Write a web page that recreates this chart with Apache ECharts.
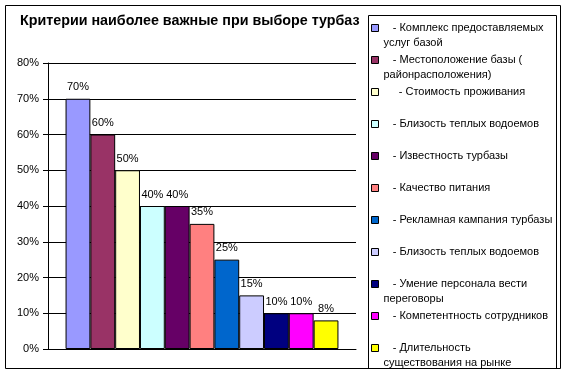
<!DOCTYPE html>
<html>
<head>
<meta charset="utf-8">
<script src="https://cdn.jsdelivr.net/npm/echarts@6/dist/echarts.min.js"></script>
<style>
html,body{margin:0;padding:0;background:#fff;}
#c{width:567px;height:374px;}
</style>
</head>
<body>
<div id="c"></div>
<script>
const titleText = 'Критерии наиболее важные при выборе турбаз';
const criteria = [
  'Комплекс предоставляемых\nуслуг базой',
  'Местоположение базы (\nрайонрасположения)',
  'Стоимость проживания',
  'Близость теплых водоемов',
  'Известность турбазы',
  'Качество питания',
  'Рекламная кампания турбазы',
  'Близость теплых водоемов ',
  'Умение персонала вести\nпереговоры',
  'Компетентность сотрудников',
  'Длительность\nсуществования на рынке'
];
const values = [70, 60, 50, 40, 40, 35, 25, 15, 10, 10, 8];
const colors = ['#9999FF', '#993366', '#FFFFCC', '#CCFFFF', '#660066', '#FF8080',
                '#0066CC', '#CCCCFF', '#000080', '#FF00FF', '#FFFF00'];
const yTicks = [0, 10, 20, 30, 40, 50, 60, 70, 80];

const font = 'Arial, "Liberation Sans", sans-serif';
const chart = echarts.init(document.getElementById('c'), null, {renderer: 'canvas'});

const series = criteria.map((name, i) => ({
  name: name,
  type: 'bar',
  data: [values[i]],
  barGap: '0%',
  barCategoryGap: '11.4%',
  itemStyle: {color: colors[i], borderColor: '#000', borderWidth: 1},
  label: {
    show: true, position: 'top', distance: 6,
    formatter: '{c}%', color: '#000', fontSize: 11, fontFamily: font
  },
  emphasis: {disabled: true},
  animation: false
}));

chart.setOption({
  animation: false,
  title: {
    text: titleText, left: 20, top: 14, padding: 0,
    textStyle: {fontSize: 14.3, fontWeight: 'bold', color: '#000', fontFamily: font}
  },
  graphic: [
    {type: 'rect', shape: {x: 5.5, y: 5.5, width: 555, height: 363}, style: {fill: 'none', stroke: '#000', lineWidth: 1}, z: -1},
    {type: 'rect', shape: {x: 368.5, y: 15.5, width: 188, height: 353}, style: {fill: 'none', stroke: '#000', lineWidth: 1}, z: -1}
  ],
  legend: {
    orient: 'vertical', left: 371, top: 5.5, padding: 0,
    itemWidth: 7, itemHeight: 7, itemGap: -13,
    icon: 'rect', selectedMode: false,
    data: criteria,
    formatter: function (name) {
      const pad = name === 'Стоимость проживания' ? '     - ' : '   - ';
      return '\n' + pad + name + (name.indexOf('\n') >= 0 ? '' : '\n');
    },
    textStyle: {fontSize: 11, lineHeight: 15, color: '#000', fontFamily: font},
    itemStyle: {borderColor: '#000', borderWidth: 1}
  },
  grid: {left: 48, right: 211, top: 63, bottom: 25, containLabel: false},
  xAxis: {
    type: 'category', data: [''],
    axisLine: {show: true, lineStyle: {color: '#000', width: 1}},
    axisTick: {show: false}, axisLabel: {show: false}
  },
  yAxis: {
    type: 'value', min: yTicks[0], max: yTicks[yTicks.length - 1], interval: 10,
    axisLine: {show: true, lineStyle: {color: '#000', width: 1}},
    axisTick: {show: true, length: 5, lineStyle: {color: '#000'}},
    axisLabel: {formatter: '{value}%', color: '#000', fontSize: 11, fontFamily: font, margin: 9},
    splitLine: {show: true, lineStyle: {color: '#000', width: 1}}
  },
  series: series
});
</script>
</body>
</html>
